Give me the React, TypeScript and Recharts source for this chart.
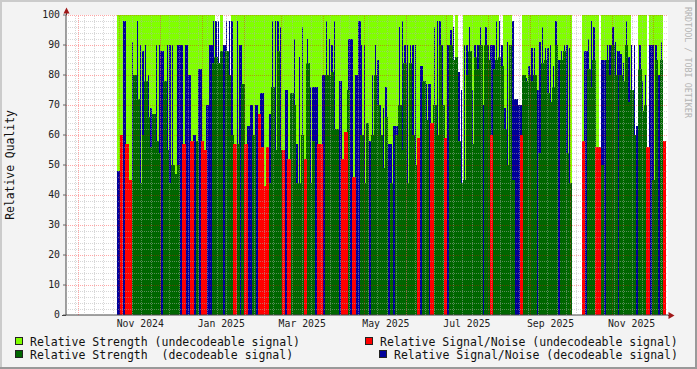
import React from "react";
import { BarChart, Bar, XAxis, YAxis, ReferenceLine, CartesianGrid } from "recharts";

// ---- time buckets (2 days each, starting Sun 22 Sep 2024) ----
const N = 223;
const START_UTC = Date.UTC(2024, 8, 22);
const DAY_MS = 86400000;
const BUCKET_DAYS = 2;
const bucketDates: string[] = Array.from({ length: N }, (_, k) =>
  new Date(START_UTC + k * BUCKET_DAYS * DAY_MS).toISOString().slice(0, 10)
);

const _ = null;

// Relative Strength (undecodeable signal)
const strengthUndecodeable: (number | null)[] = [
  _, _, _, _, _, _, _, _, _, _,
  _, _, _, _, _, _, _, _, _, 100,
  100, 100, 100, 100, 100, 100, 100, 100, 100, 100,
  100, 100, 100, 100, 100, 100, 100, 100, 100, 100,
  100, 100, 100, 100, 100, 100, 100, 100, 100, 100,
  100, 100, 100, 100, 100, 0, 0, 100, 0, 0,
  0, 100, 100, 100, 100, 100, 100, 100, 100, 100,
  100, 100, 100, 100, 100, 100, 100, 100, 100, 100,
  100, 100, 100, 100, 100, 100, 100, 100, 100, 100,
  100, 100, 100, 100, 100, 100, 100, 100, 100, 100,
  100, 100, 100, 100, 100, 100, 100, 100, 100, 100,
  100, 100, 100, 100, 100, 100, 100, 100, 100, 100,
  100, 100, 100, 100, 100, 100, 100, 100, 100, 100,
  100, 100, 100, 100, 100, 100, 100, 100, 100, 100,
  100, 100, 100, 0, 100, 0, 0, 100, 100, 100,
  100, 100, 100, 100, 100, 100, 100, 100, 100, 100,
  0, 0, 100, 100, 100, 0, 0, 0, 0, 100,
  100, 100, 100, 100, 100, 100, 100, 100, 100, 100,
  100, 100, 100, 100, 100, 100, 100, _, _, _,
  _, 100, 100, 100, 100, 100, 100, 0, 100, 100,
  100, 100, 100, 100, 100, 100, 100, 100, 100, 0,
  0, 0, 100, 100, 100, 0, 100, 100, 100, 100,
  100, 0, _,
];

// Relative Strength (decodeable signal)
const strengthDecodeable: (number | null)[] = [
  _, _, _, _, _, _, _, _, _, _,
  _, _, _, _, _, _, _, _, _, 0,
  0, 0, 0, 0, 45, 80, 72, 44, 60, 78,
  66, 56, 67, 58, 54, 0, 78, 55, 44, 50,
  47, 50, 0, 0, 0, 0, 0, 0, 58, 0,
  0, 0, 0, 0, 84, 86, 84, 88, 0, 88,
  80, 60, 0, 57, 0, 77, 0, 0, 0, 60,
  0, 0, 0, 0, 0, 44, 76, 55, 88, 55,
  0, 0, 0, 74, 70, 44, 44, 60, 0, 84,
  44, 58, 0, 0, 0, 0, 80, 80, 81, 62,
  62, 0, 0, 0, 75, 0, 0, 0, 0, 60,
  44, 64, 0, 60, 80, 70, 60, 49, 66, 0,
  44, 0, 60, 70, 55, 84, 44, 84, 60, 50,
  0, 0, 78, 65, 0, 0, 70, 60, 90, 70,
  0, 0, 90, 85, 86, 58, 44, 45, 80, 88,
  57, 86, 82, 90, 0, 90, 85, 0, 82, 85,
  86, 83, 62, 50, 90, 45, 0, 0, 0, 80,
  78, 80, 78, 80, 0, 54, 84, 85, 74, 71,
  76, 90, 0, 85, 88, 54, 44, _, _, _,
  _, 0, 0, 82, 76, 85, 0, 0, 50, 0,
  85, 80, 90, 80, 0, 80, 78, 90, 71, 75,
  60, 0, 82, 68, 70, 0, 0, 45, 85, 0,
  85, 0, _,
];

// Relative Signal/Noise (decodeable signal)
const snrDecodeable: (number | null)[] = [
  _, _, _, _, _, _, _, _, _, _,
  _, _, _, _, _, _, _, _, _, 48,
  0, 98, 0, 0, 91, 0, 98, 90, 88, 90,
  80, 69, 0, 90, 90, 88, 0, 90, 90, 90,
  0, 90, 90, 0, 90, 80, 0, 60, 0, 82,
  0, 0, 70, 90, 98, 98, 98, 0, 90, 98,
  98, 98, 0, 98, 90, 0, 0, 63, 70, 0,
  70, 0, 74, 0, 0, 67, 98, 98, 98, 96,
  0, 75, 0, 0, 92, 57, 86, 96, 0, 92,
  76, 76, 76, 0, 0, 80, 98, 92, 90, 98,
  0, 78, 0, 0, 92, 92, 0, 80, 98, 90,
  90, 0, 58, 80, 90, 85, 70, 69, 76, 57,
  57, 63, 63, 96, 98, 90, 90, 90, 90, 90,
  0, 83, 0, 77, 77, 0, 96, 98, 98, 90,
  0, 90, 95, 96, 0, 81, 75, 90, 90, 96,
  75, 90, 90, 96, 70, 96, 90, 90, 90, 98,
  98, 90, 69, 91, 0, 98, 72, 70, 70, 0,
  79, 83, 89, 89, 75, 91, 96, 89, 89, 90,
  83, 98, 85, 88, 90, 90, 89, _, _, _,
  _, 0, 88, 92, 98, 96, 0, 0, 85, 85,
  90, 90, 96, 91, 88, 87, 84, 98, 86, 90,
  90, 63, 90, 78, 80, 0, 90, 90, 90, 80,
  91, 0, _,
];

// Relative Signal/Noise (undecodeable signal)
const snrUndecodeable: (number | null)[] = [
  _, _, _, _, _, _, _, _, _, _,
  _, _, _, _, _, _, _, _, _, 0,
  60, 0, 57, 45, 0, 0, 0, 0, 0, 0,
  0, 0, 0, 0, 0, 0, 0, 0, 0, 0,
  0, 0, 0, 57, 0, 0, 58, 0, 0, 0,
  58, 55, 0, 0, 0, 0, 0, 0, 0, 0,
  0, 0, 57, 0, 0, 0, 57, 0, 0, 0,
  0, 67, 56, 43, 56, 0, 0, 0, 0, 0,
  55, 0, 52, 0, 0, 0, 0, 0, 52, 0,
  0, 0, 0, 57, 57, 0, 0, 0, 0, 0,
  0, 0, 52, 61, 0, 0, 46, 0, 0, 0,
  0, 0, 0, 0, 0, 0, 0, 0, 0, 0,
  0, 0, 0, 0, 0, 0, 0, 0, 0, 0,
  59, 0, 0, 0, 0, 64, 0, 0, 0, 0,
  59, 0, 0, 0, 0, 0, 0, 0, 0, 0,
  0, 0, 0, 0, 0, 0, 0, 60, 0, 0,
  0, 0, 0, 0, 0, 0, 0, 0, 60, 0,
  0, 0, 0, 0, 0, 0, 0, 0, 0, 0,
  0, 0, 0, 0, 0, 0, 0, _, _, _,
  _, 58, 0, 0, 0, 0, 56, 56, 0, 0,
  0, 0, 0, 0, 0, 0, 0, 0, 0, 0,
  0, 0, 0, 0, 0, 56, 0, 0, 0, 0,
  0, 58, _,
];

// x tick labels (mid-month buckets)
const tickDates = ["2024-11-15", "2025-01-14", "2025-03-15", "2025-05-16", "2025-07-15", "2025-09-15", "2025-11-14"];
const tickLabels = ["Nov 2024", "Jan 2025", "Mar 2025", "May 2025", "Jul 2025", "Sep 2025", "Nov 2025"];
const yTicks = [0, 10, 20, 30, 40, 50, 60, 70, 80, 90, 100];

const legendItems = [
  { label: "Relative Strength (undecodeable signal)", color: "#80ff00" },
  { label: "Relative Signal/Noise (undecodeable signal)", color: "#ff0000" },
  { label: "Relative Strength  (decodeable signal)", color: "#006600" },
  { label: "Relative Signal/Noise (decodeable signal)", color: "#000099" },
];

const MONO = "'DejaVu Sans Mono', monospace";
const C_LIME = "#80ff00";
const C_GREEN = "#006600";
const C_RED = "#ff0000";
const C_BLUE = "#000099";

const FullShape = (p: any) => {
  const { x, y, width, height, fill } = p;
  if (!height || height <= 0 || !isFinite(y)) return <g />;
  return <rect x={x} y={y} width={width + 0.5} height={height} fill={fill} shapeRendering="crispEdges" />;
};

const BlueShape = (p: any) => {
  const { x, y, width, height, fill, payload } = p;
  if (!height || height <= 0 || !isFinite(y)) return <g />;
  const thin = payload && payload.strengthDec > 0;
  const w = thin ? 1.4 : width + 0.5;
  const xx = thin ? x + width / 2 - 0.7 : x;
  return <rect x={xx} y={y} width={w} height={height} fill={fill} shapeRendering="crispEdges" />;
};

const EmptyShape = () => <g />;

function dayRef(d: number) {
  const k = Math.floor(d / BUCKET_DAYS);
  return { cat: bucketDates[k], pos: d % 2 === 0 ? "start" : "middle" };
}

const CHART_MARGIN = { top: 15, right: 29, bottom: 0, left: 0 };

export default function App() {
  const rows = bucketDates.map((d, i) => ({
    date: d,
    strengthUndec: strengthUndecodeable[i],
    snrDec: snrDecodeable[i],
    strengthDec: strengthDecodeable[i],
    snrUndec: snrUndecodeable[i],
  }));
  const labelOf: Record<string, string> = {};
  tickDates.forEach((d, i) => (labelOf[d] = tickLabels[i]));

  const totalDays = N * BUCKET_DAYS;
  const weekDays: number[] = [];
  for (let d = 7; d < totalDays; d += 7) weekDays.push(d);
  const monthDays: number[] = [];
  for (let m = 9; m < 9 + 16; m++) {
    const t = Date.UTC(2024, m, 1);
    const d = Math.round((t - START_UTC) / DAY_MS);
    if (d > 0 && d < totalDays) monthDays.push(d);
  }
  const minorY: number[] = [];
  for (let v = 2; v < 100; v += 2) if (v % 10 !== 0) minorY.push(v);
  const majorY = [10, 20, 30, 40, 50, 60, 70, 80, 90, 100];

  const minorStroke = "rgba(175,175,175,0.5)";
  const majorStroke = "rgba(255,0,0,0.35)";

  return (
    <div style={{ position: "fixed", left: 0, top: 0, width: 697, height: 369, background: "#f3f3f3", overflow: "hidden" }}>
      {/* data layer */}
      <div style={{ position: "absolute", left: 0, top: 0 }}>
        <BarChart width={697} height={369} data={rows} margin={CHART_MARGIN} barCategoryGap={0} barGap={0}>
          <CartesianGrid xAxisId="a" horizontal={false} vertical={false} fill="#ffffff" />
          <XAxis
            xAxisId="a"
            dataKey="date"
            height={54}
            ticks={tickDates}
            interval={0}
            tickFormatter={(v: string) => labelOf[v] || ""}
            tickLine={false}
            tickSize={0}
            tickMargin={5.5}
            axisLine={{ stroke: "#444" }}
            tick={{ fontFamily: MONO, fontSize: 9.8, fill: "#222" }}
          />
          <XAxis xAxisId="b" dataKey="date" hide />
          <XAxis xAxisId="c" dataKey="date" hide />
          <XAxis xAxisId="d" dataKey="date" hide />
          <YAxis
            width={66}
            domain={[0, 100]}
            ticks={yTicks}
            interval={0}
            tickSize={3}
            tickMargin={3}
            axisLine={{ stroke: "#444" }}
            tickLine={{ stroke: "#666" }}
            tick={{ fontFamily: MONO, fontSize: 9.8, fill: "#222" }}
            label={{
              content: (props: any) => {
                const vb = props.viewBox || { x: 0, y: 15, width: 66, height: 300 };
                const cx = vb.x + 14;
                const cy = vb.y + vb.height / 2;
                return (
                  <text x={cx} y={cy} transform={`rotate(-90, ${cx}, ${cy})`} textAnchor="middle" fontFamily={MONO} fontSize={11.4} fill="#111">
                    Relative Quality
                  </text>
                );
              },
            }}
          />
          <Bar xAxisId="a" dataKey="strengthUndec" fill={C_LIME} isAnimationActive={false} shape={FullShape} />
          <Bar xAxisId="b" dataKey="snrDec" fill={C_BLUE} isAnimationActive={false} shape={BlueShape} />
          <Bar xAxisId="c" dataKey="strengthDec" fill={C_GREEN} isAnimationActive={false} shape={FullShape} />
          <Bar xAxisId="d" dataKey="snrUndec" fill={C_RED} isAnimationActive={false} shape={FullShape} />
        </BarChart>
      </div>
      {/* grid layer drawn over the data, same scales */}
      <div style={{ position: "absolute", left: 0, top: 0, pointerEvents: "none" }}>
        <BarChart width={697} height={369} data={rows} margin={CHART_MARGIN} barCategoryGap={0} barGap={0}>
          <XAxis xAxisId="a" dataKey="date" height={54} tick={false} tickLine={false} axisLine={false} />
          <YAxis width={66} domain={[0, 100]} ticks={yTicks} tick={false} tickLine={false} axisLine={false} />
          <Bar xAxisId="a" dataKey="strengthUndec" fill="none" isAnimationActive={false} shape={EmptyShape} />
          {minorY.map((v) => (
            <ReferenceLine key={"my" + v} xAxisId="a" y={v} stroke={minorStroke} strokeDasharray="1 1" shapeRendering="crispEdges" />
          ))}
          {weekDays.map((d) => {
            const r = dayRef(d);
            return (
              <ReferenceLine key={"wk" + d} xAxisId="a" x={r.cat} position={r.pos as any} stroke={minorStroke} strokeDasharray="1 1" shapeRendering="crispEdges" />
            );
          })}
          {majorY.map((v) => (
            <ReferenceLine key={"My" + v} xAxisId="a" y={v} stroke={majorStroke} strokeDasharray="1 1" shapeRendering="crispEdges" />
          ))}
          {monthDays.map((d) => {
            const r = dayRef(d);
            return (
              <ReferenceLine key={"mo" + d} xAxisId="a" x={r.cat} position={r.pos as any} stroke={majorStroke} strokeDasharray="1 1" shapeRendering="crispEdges" />
            );
          })}
        </BarChart>
      </div>
      <svg width={697} height={369} style={{ position: "absolute", left: 0, top: 0, pointerEvents: "none" }}>
        {/* frame shading */}
        <rect x={0} y={0} width={697} height={2} fill="#cbcbcb" />
        <rect x={0} y={0} width={2} height={369} fill="#cbcbcb" />
        <rect x={0} y={367} width={697} height={2} fill="#999999" />
        <rect x={695} y={0} width={2} height={369} fill="#999999" />
        {/* axis extensions and arrows */}
        <line x1={66.5} y1={15} x2={66.5} y2={10} stroke="#444" />
        <line x1={62} y1={315.5} x2={66} y2={315.5} stroke="#444" />
        <line x1={668} y1={315.5} x2={670} y2={315.5} stroke="#444" />
        <polygon points="63.5,13.5 69.5,13.5 66.5,7.5" fill="#a01818" />
        <polygon points="668.5,312 668.5,319 674.5,315.5" fill="#a01818" />
        {/* watermark */}
        <text x={685} y={7} transform="rotate(90, 685, 7)" fontFamily={MONO} fontSize={8.4} fill="#b4b4b4">
          RRDTOOL / TOBI OETIKER
        </text>
        {/* legend */}
        {legendItems.map((it, i) => {
          const col = i % 2;
          const row = Math.floor(i / 2);
          const sx = col === 0 ? 15 : i === 1 ? 365 : 379;
          const baseY = row === 0 ? 345.5 : 358.5;
          return (
            <g key={it.label}>
              <rect x={sx + 0.5} y={baseY - 8} width={7} height={7} fill={it.color} stroke="#222" strokeWidth={1} />
              <text x={sx + 15} y={baseY} fontFamily={MONO} fontSize={11.5} fill="#111" style={{ whiteSpace: "pre" }}>
                {it.label}
              </text>
            </g>
          );
        })}
      </svg>
    </div>
  );
}
